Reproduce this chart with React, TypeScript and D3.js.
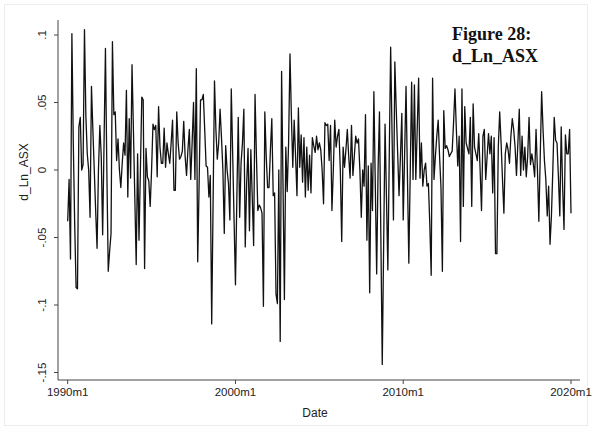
import React from "react";
import * as d3 from "d3";

// monthly log returns, 1990m1 .. 2020m1
const returns1990s = [
  -0.038, -0.007, -0.066, 0.101, 0.02, -0.04, -0.087, -0.088, 0.032, 0.039, 0.0, 0.004,
  0.104, 0.04, 0.012, 0.0, -0.035, 0.062, 0.03, 0.0, -0.03, -0.058, 0.0, 0.033,
  0.01, -0.048, 0.02, 0.09, 0.0, -0.075, -0.06, -0.047, 0.095, 0.041, 0.043, 0.007,
  0.023, 0.0, -0.013, 0.005, 0.02, 0.011, 0.059, -0.02, 0.038, -0.006, 0.078, 0.03,
  -0.02, -0.07, 0.012, -0.052, 0.0, 0.054, 0.052, -0.073, 0.016, -0.005, -0.008, -0.027,
  0.0, 0.034, 0.03, 0.033, -0.005, 0.047, 0.017, 0.005, 0.005, 0.031, 0.002, 0.02,
  0.012, 0.005, 0.02, 0.037, -0.015, -0.015, 0.043, 0.02, 0.008, 0.01, 0.014, 0.036,
  0.01, -0.004, 0.015, 0.03, -0.007, 0.02, 0.05, -0.007, 0.075, -0.068, -0.01, 0.052,
  0.052, 0.056, 0.03, 0.003, 0.002, -0.02, -0.004, -0.114, -0.024, 0.066, 0.03, 0.008,
  0.02, 0.045, 0.024, 0.0, -0.047, 0.018, 0.0, -0.01, -0.037, 0.06, 0.012, -0.037,
];
const returns2000s = [
  -0.085, -0.02, 0.039, -0.035, 0.005, 0.02, 0.045, -0.057, -0.01, 0.016, -0.045, 0.015,
  -0.02, -0.056, 0.056, 0.01, -0.03, -0.026, -0.028, -0.032, -0.101, 0.043, 0.01, -0.013,
  -0.013, 0.015, 0.038, -0.019, -0.017, -0.092, -0.099, 0.0, -0.127, 0.073, -0.01, -0.096,
  0.017, -0.016, 0.02, 0.086, 0.04, 0.002, 0.037, 0.01, -0.019, 0.046, 0.002, 0.026,
  -0.009, 0.024, -0.02, 0.017, -0.015, 0.011, -0.017, 0.024, 0.018, 0.013, 0.025, 0.015,
  0.02, 0.015, 0.0, -0.025, 0.035, 0.033, 0.034, 0.007, 0.033, -0.03, 0.0, 0.037,
  0.017, 0.025, 0.03, 0.0, -0.053, 0.017, 0.002, 0.015, 0.03, 0.01, -0.006, 0.033,
  -0.004, 0.01, 0.025, 0.02, 0.023, 0.0, -0.035, 0.0, -0.012, 0.041, -0.052, 0.003,
  -0.091, 0.005, -0.03, 0.058, -0.01, -0.077, 0.0, 0.043, -0.05, -0.144, -0.055, 0.034,
  -0.02, -0.074, 0.01, 0.091, 0.027, -0.037, 0.08, 0.045, 0.013, -0.019, 0.01, 0.042,
];
const returns2010s = [
  -0.037, 0.012, 0.062, -0.004, -0.069, -0.002, 0.065, -0.007, 0.063, -0.007, 0.03, 0.068,
  -0.006, 0.02, -0.012, 0.0, 0.005, -0.012, -0.01, -0.04, -0.078, 0.068, -0.007, 0.01,
  0.025, 0.037, 0.01, -0.013, -0.075, 0.044, 0.016, 0.018, 0.015, 0.01, 0.012, 0.014,
  0.035, 0.06, 0.03, 0.003, 0.025, -0.053, 0.06, -0.027, 0.047, 0.02, 0.016, 0.012,
  0.039, -0.027, 0.049, 0.017, 0.012, 0.007, 0.027, 0.0, -0.03, 0.025, 0.03, -0.007,
  0.01, 0.027, 0.012, 0.025, -0.017, 0.024, -0.062, -0.062, 0.017, 0.043, 0.02, -0.007,
  -0.032, 0.012, 0.02, 0.015, 0.005, 0.025, 0.038, 0.03, 0.017, -0.004, 0.02, 0.045,
  -0.004, 0.025, 0.0, 0.017, -0.005, 0.01, 0.039, 0.004, 0.012, 0.005, -0.005, 0.03,
  0.0, -0.038, 0.01, 0.058, 0.03, 0.007, -0.007, -0.034, -0.012, -0.055, -0.034, 0.0,
  0.039, 0.022, 0.02, -0.005, -0.034, 0.032, -0.012, -0.044, 0.026, 0.012, 0.012, 0.03,
];
const returns2020s = [-0.032];

const startYear = 1990;
const xTickYears = [1990, 2000, 2010, 2020];
const yTicks = [-0.15, -0.1, -0.05, 0, 0.05, 0.1];
const yTickLabels = ["-.15", "-.1", "-.05", "0", ".05", ".1"];

const App = () => {
  const width = 592;
  const height = 430;
  const axisLeft = 58;
  const axisRight = 580;
  const axisTop = 20;
  const axisBottom = 380;

  const series = [...returns1990s, ...returns2000s, ...returns2010s, ...returns2020s];
  const monthOf = (yr: number) => (yr - startYear) * 12;

  const x = d3.scaleLinear().domain([0, monthOf(2020)]).range([67.7, 571]);
  const y = d3.scaleLinear().domain([-0.15, 0.1]).range([372.5, 35]);

  const line = d3
    .line<number>()
    .x((_, i) => x(i))
    .y(d => y(d));

  const sans = "'Liberation Sans', Arial, sans-serif";

  return (
    <svg
      width={width}
      height={height}
      style={{ position: "absolute", left: 0, top: 0, background: "#fff" }}
    >
      <rect x={4.5} y={4.5} width={width - 9} height={height - 9} fill="#fff" stroke="#ececec" />

      <path d={line(series) || ""} fill="none" stroke="#111" strokeWidth={1.3} strokeLinejoin="round" />

      {/* axes */}
      <line x1={axisLeft} x2={axisLeft} y1={axisTop} y2={axisBottom} stroke="#444" strokeWidth={1} />
      <line x1={axisLeft} x2={axisRight} y1={axisBottom} y2={axisBottom} stroke="#444" strokeWidth={1} />

      <g fontFamily={sans} fontSize={11.5} fill="#222">
        {yTicks.map((t, i) => (
          <g key={t}>
            <line x1={axisLeft - 4} x2={axisLeft} y1={y(t)} y2={y(t)} stroke="#444" />
            <text
              transform={`translate(46,${y(t)}) rotate(-90)`}
              textAnchor="middle"
            >
              {yTickLabels[i]}
            </text>
          </g>
        ))}
        {xTickYears.map(yr => (
          <g key={yr}>
            <line x1={x(monthOf(yr))} x2={x(monthOf(yr))} y1={axisBottom} y2={axisBottom + 4} stroke="#444" />
            <text x={x(monthOf(yr))} y={396} textAnchor="middle">
              {`${yr}m1`}
            </text>
          </g>
        ))}
      </g>

      <g fontFamily={sans} fontSize={12} fill="#222">
        <text transform="translate(28,172) rotate(-90)" textAnchor="middle">
          d_Ln_ASX
        </text>
        <text x={315} y={417} textAnchor="middle">
          Date
        </text>
      </g>

      <g fontFamily="'Liberation Serif', 'Times New Roman', serif" fontSize={18} fontWeight="bold" fill="#111">
        <text x={452} y={40}>Figure 28:</text>
        <text x={452} y={62}>d_Ln_ASX</text>
      </g>
    </svg>
  );
};

export default App;
